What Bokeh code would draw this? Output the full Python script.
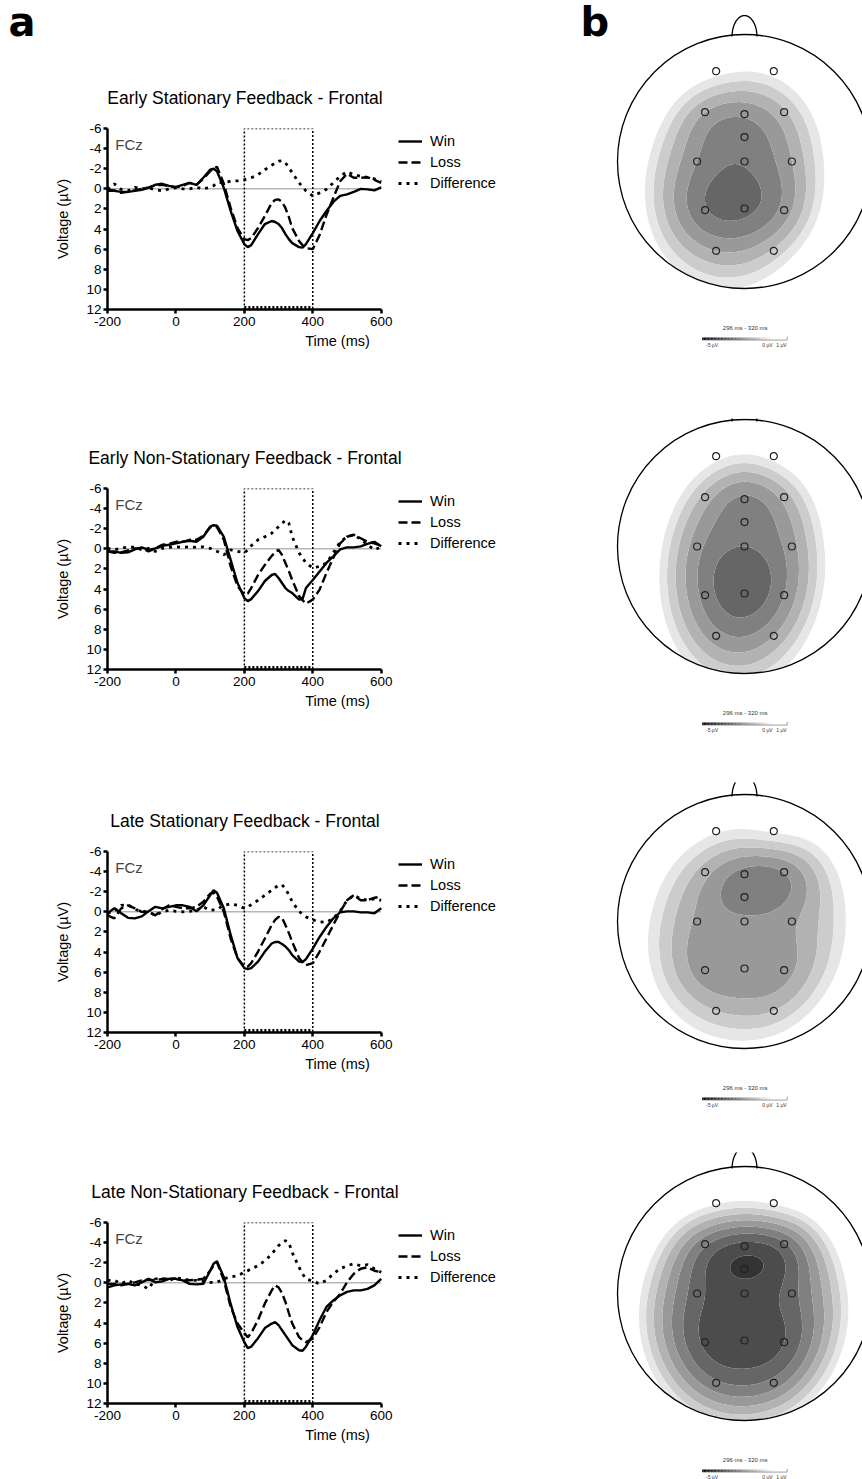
import numpy as np
from bokeh.plotting import figure
from bokeh.layouts import row, column
from bokeh.models import Range1d, FixedTicker, Legend, LegendItem, Label
from bokeh.core.properties import value
from bokeh.embed import file_html
from bokeh.resources import INLINE

# ---------------- data ----------------
TIME = [-200, -180, -160, -140, -120, -100, -80, -60, -40, -20, 0, 20, 40, 60, 80, 100,
        110, 120, 140, 160, 180, 200, 210, 220, 240, 260, 280,
        290, 300, 310, 320, 330, 340, 360, 370,
        380, 400, 420, 440, 460, 480, 500, 520, 540, 560, 580, 600]

TITLES = ["Early Stationary Feedback - Frontal",
          "Early Non-Stationary Feedback - Frontal",
          "Late Stationary Feedback - Frontal",
          "Late Non-Stationary Feedback - Frontal"]

WIN = [
    [0.2, 0.2, 0.3, 0.3, 0.2, 0.1, -0.1, -0.4, -0.5, -0.3, -0.2, -0.4, -0.6, -0.4, -1.1, -1.9,
     -2.0, -1.75, -0.1, 2.2, 4.2, 5.5, 5.8, 5.6, 4.5, 3.5, 3.2,
     3.3, 3.5, 3.9, 4.5, 5.0, 5.4, 5.8, 5.85,
     5.5, 4.4, 3.2, 2.2, 1.3, 0.7, 0.55, 0.3, 0.0, 0.05, 0.15, -0.15],
    [0.25, 0.25, 0.4, 0.35, 0.05, -0.15, 0.1, -0.05, -0.3, -0.4, -0.55, -0.7, -0.8, -0.7, -1.2, -2.2,
     -2.35, -2.3, -1.2, 1.1, 3.4, 4.9, 5.2, 5.0, 4.2, 3.2, 2.6,
     2.5, 2.9, 3.4, 3.9, 4.2, 4.4, 5.05, 5.0,
     3.9, 3.1, 2.25, 1.4, 0.75, 0.05, -0.15, -0.15, -0.25, -0.5, -0.7, -0.25],
    [0.15, -0.35, 0.15, 0.6, 0.65, 0.45, -0.05, -0.5, -0.35, -0.5, -0.65, -0.65, -0.5, -0.05, -0.65, -1.65,
     -2.15, -1.9, -0.35, 2.3, 4.6, 5.6, 5.7, 5.6, 4.95, 3.95, 3.15,
     3.0, 3.0, 3.2, 3.45, 3.8, 4.3, 4.95, 5.0,
     4.7, 3.65, 2.5, 1.5, 0.65, 0.05, -0.05, -0.05, 0.05, 0.05, 0.15, -0.35],
    [0.45, 0.25, 0.15, 0.1, 0.25, -0.05, -0.4, -0.05, -0.15, -0.4, -0.4, -0.25, 0.1, 0.15, 0.1, -1.2,
     -1.9, -2.15, -0.55, 2.1, 4.4, 5.9, 6.5, 6.35, 5.5, 4.5, 4.05,
     3.9, 4.2, 4.7, 5.2, 5.7, 6.2, 6.7, 6.75,
     6.35, 5.2, 3.7, 2.4, 1.75, 1.25, 0.9, 0.75, 0.75, 0.6, 0.25, -0.4],
]

LOSS = [
    [0.1, 0.15, 0.4, 0.3, 0.15, 0.0, -0.15, -0.35, -0.4, -0.25, -0.15, -0.3, -0.6, -0.4, -1.0, -1.75,
     -2.0, -2.2, -0.5, 1.9, 3.9, 5.0, 5.1, 4.9, 3.9, 2.7, 1.4,
     1.1, 1.05, 1.3, 1.9, 2.8, 3.9, 5.2, 5.6,
     5.9, 6.0, 4.6, 2.6, 0.9, -0.75, -1.5, -1.1, -1.1, -1.15, -0.9, -0.6],
    [0.25, 0.4, 0.35, 0.15, -0.05, -0.05, 0.25, -0.05, -0.4, -0.5, -0.7, -0.7, -0.9, -0.9, -1.3, -2.15,
     -2.2, -2.15, -0.9, 1.75, 3.7, 4.55, 4.45, 3.9, 2.6, 1.6, 0.7,
     0.35, 0.1, 0.6, 1.4, 2.2, 3.1, 4.7, 5.1,
     5.45, 5.05, 4.05, 2.4, 0.9, -0.55, -1.2, -1.4, -1.05, -0.7, -0.55, -0.3],
    [0.35, 0.65, -0.35, -0.65, -0.35, 0.0, 0.0, 0.35, -0.25, -0.65, -0.5, -0.35, -0.35, -0.5, -1.0, -1.8,
     -1.9, -1.5, 0.0, 2.65, 4.6, 5.45, 5.45, 5.1, 3.95, 2.65, 1.3,
     0.8, 0.5, 0.6, 1.3, 2.1, 3.0, 4.6, 5.0,
     5.3, 5.1, 3.95, 2.65, 1.3, 0.0, -1.15, -1.65, -1.15, -1.15, -1.4, -1.5],
    [0.1, 0.1, 0.25, 0.1, -0.05, -0.25, -0.3, -0.25, -0.4, -0.4, -0.4, -0.25, -0.25, -0.3, -0.4, -1.2,
     -1.7, -2.05, -0.25, 2.4, 4.05, 5.0, 5.4, 5.0, 3.7, 2.05, 0.75,
     0.25, 0.45, 1.0, 1.9, 3.0, 4.05, 5.4, 5.7,
     5.9, 5.55, 4.4, 2.9, 1.9, 1.1, -0.05, -0.9, -1.4, -1.55, -1.2, -1.05],
]

DIFF = [
    [0.05, -0.5, 0.05, 0.2, -0.15, 0.0, -0.1, 0.1, 0.2, 0.0, -0.1, 0.0, 0.0, -0.15, 0.0, -0.15,
     -0.3, -0.6, -0.65, -0.75, -0.8, -0.9, -1.0, -1.1, -1.4, -1.9, -2.35,
     -2.55, -2.75, -2.8, -2.6, -2.1, -1.6, -0.6, -0.2,
     0.2, 0.7, 0.4, 0.05, -0.6, -1.25, -1.7, -1.4, -1.25, -1.15, -1.0, -0.75],
    [-0.05, 0.1, -0.05, -0.2, -0.15, 0.1, -0.05, 0.25, -0.05, -0.15, -0.2, -0.15, -0.2, -0.15, -0.2, -0.05,
     0.1, 0.25, 0.6, 0.1, 0.25, 0.4, 0.1, -0.3, -0.9, -1.2, -1.55,
     -1.9, -2.2, -2.5, -2.85, -2.55, -1.2, 0.4, 0.9,
     1.4, 1.9, 1.75, 1.4, 0.4, -0.7, -1.2, -1.4, -0.95, -0.4, 0.1, -0.2],
    [0.15, -0.05, -0.65, -0.7, -0.25, -0.05, 0.0, 0.35, 0.0, -0.15, -0.05, 0.0, -0.05, -0.15, -0.5, -0.15,
     -0.2, -0.25, -0.65, -0.8, -0.65, -0.35, -0.5, -0.7, -1.15, -1.65, -2.15,
     -2.4, -2.65, -2.7, -2.3, -1.7, -1.0, -0.05, 0.25,
     0.5, 0.8, 1.0, 1.05, 0.65, -0.05, -1.15, -1.65, -1.3, -1.15, -1.3, -1.15],
    [-0.25, -0.25, 0.1, -0.25, 0.1, 0.25, 0.6, -0.4, -0.4, -0.25, -0.5, -0.4, -0.25, -0.25, -0.15, -0.05,
     -0.05, -0.05, -0.4, -0.6, -0.7, -1.05, -1.2, -1.4, -1.7, -2.2, -2.85,
     -3.3, -3.7, -4.0, -4.2, -4.0, -3.0, -1.55, -0.9,
     -0.4, -0.15, 0.1, -0.25, -0.9, -1.4, -1.7, -1.9, -1.7, -1.8, -1.4, -1.05],
]

SERIES_NAMES = ["Win", "Loss", "Difference"]
CHANNEL = "FCz"
WINDOW = [200, 400]
X_TICKS = [-200, 0, 200, 400, 600]
Y_TICKS = [-6, -4, -2, 0, 2, 4, 6, 8, 10, 12]

# electrode layout (head radius = 1, nose up)
ELEC_NAMES = ["Fp1", "Fp2", "F3", "Fz", "F4", "FCz", "C3", "Cz", "C4", "P3", "Pz", "P4", "O1", "O2"]
ELEC_X = [-0.223, 0.231, -0.310, 0.0, 0.312, 0.0, -0.373, 0.0, 0.373, -0.310, 0.0, 0.312, -0.223, 0.231]
ELEC_Y = [0.711, 0.711, 0.388, 0.373, 0.388, 0.192, 0.0, 0.0, 0.0, -0.383, -0.370, -0.383, -0.703, -0.703]

# difference voltage (µV) at each electrode, 296-320 ms
TOPO_VALUES = [
    [0.3, 0.3, -1.5, -1.9, -1.1, -2.3, -2.0, -2.45, -1.5, -2.45, -2.65, -1.8, -1.5, -0.9],
    [0.3, 0.3, -1.2, -2.1, -1.3, -2.3, -1.8, -2.5, -1.7, -2.2, -2.85, -2.0, -1.8, -1.5],
    [0.1, 0.1, -1.3, -2.2, -2.0, -2.3, -1.6, -1.9, -1.6, -1.8, -1.9, -1.7, -1.0, -1.0],
    [0.1, 0.1, -2.4, -3.2, -2.6, -3.6, -2.8, -3.3, -2.7, -3.1, -3.3, -3.0, -2.4, -2.3],
]
TOPO_WINDOW = "296 ms - 320 ms"
CBAR_MIN, CBAR_MAX = -5, 1
CBAR_LABELS = ["-5 µV", "0 µV", "1 µV"]
CONTOUR_LEVELS = [-5.0, -4.5, -4.0, -3.5, -3.0, -2.5, -2.0, -1.5, -1.0, -0.5, 0.0]

# ---------------- layout constants (page pixels) ----------------
LEFT_W, RIGHT_W = 578, 284
PANEL_H = [418, 364, 370, 327]
HEADER_H = [118, 60, 59, 60]
FRAME_TOP_PAD = 10
FRAME_H = 181
FRAME_LEFT = 107
FRAME_W = 460
PX_PER_MS = 273.7 / 800.0
X_END = X_TICKS[0] + FRAME_W / PX_PER_MS
HEAD_PX = 127.0
HEAD_CX = 166.0
HEAD_CY = [161, 128, 139, 141]
BASELINE_FIX = 16

FONT = "Liberation Sans"


def gray_hex(v):
    g = int(round(min(255, max(0, 255 + 51 * v))))
    return "#%02x%02x%02x" % (g, g, g)


BAND_COLORS = [gray_hex(a) for a in CONTOUR_LEVELS[:-1]]


def header_figure(i):
    h = HEADER_H[i]
    p = figure(width=LEFT_W, height=h, x_range=Range1d(0, LEFT_W), y_range=Range1d(h, 0),
               output_backend="svg", toolbar_location=None, min_border=0,
               x_axis_location=None, y_axis_location=None)
    p.frame_align = False
    p.outline_line_color = None
    p.grid.visible = False
    p.text(x=[244.5], y=[h + FRAME_TOP_PAD - 31], text=[TITLES[i]], text_font=value(FONT),
           text_font_size="17.5px", text_align="center", text_baseline="middle", text_color="black")
    if i == 0:
        p.text(x=[8], y=[37 - BASELINE_FIX], text=["a"], text_font=value("DejaVu Sans"),
               text_font_style="bold", text_font_size="40px", text_align="left",
               text_baseline="alphabetic", text_color="black")
    return p


def erp_figure(i):
    H = PANEL_H[i] - HEADER_H[i]
    p = figure(width=LEFT_W, height=H,
               x_range=Range1d(X_TICKS[0], X_END), y_range=Range1d(Y_TICKS[-1], Y_TICKS[0]),
               output_backend="svg", toolbar_location=None,
               min_border_left=FRAME_LEFT, min_border_right=LEFT_W - FRAME_LEFT - FRAME_W,
               min_border_top=FRAME_TOP_PAD, min_border_bottom=H - FRAME_TOP_PAD - FRAME_H)
    p.frame_align = False
    p.outline_line_color = None
    p.grid.visible = False

    for ax in (p.xaxis, p.yaxis):
        ax.axis_line_width = 2.5
        ax.axis_line_color = "black"
        ax.major_tick_line_width = 2.5
        ax.major_tick_line_color = "black"
        ax.major_tick_out = 4
        ax.major_tick_in = 0
        ax.minor_tick_line_color = None
        ax.major_label_text_font = FONT
        ax.major_label_text_font_size = "13.5px"
        ax.major_label_text_color = "black"
        ax.axis_label_text_font = FONT
        ax.axis_label_text_font_size = "14.5px"
        ax.axis_label_text_font_style = "normal"
        ax.axis_label_text_color = "black"
    p.xaxis.ticker = FixedTicker(ticks=X_TICKS)
    p.xaxis.bounds = (X_TICKS[0], X_TICKS[-1])
    p.xaxis.major_label_overrides = {t: str(t) for t in X_TICKS}
    p.yaxis.ticker = FixedTicker(ticks=Y_TICKS)
    p.yaxis.major_label_overrides = {t: str(t) for t in Y_TICKS}
    p.xaxis.axis_label = "Time (ms)"
    p.yaxis.axis_label = "Voltage (µV)"
    p.xaxis.major_label_standoff = 3
    p.yaxis.major_label_standoff = 2
    p.xaxis.axis_label_standoff = 4
    p.yaxis.axis_label_standoff = 12

    # zero line
    p.line([TIME[0], TIME[-1]], [0, 0], line_color="#222222", line_width=1, line_dash="1 1")
    # analysis window box
    p.line([WINDOW[0], WINDOW[0], WINDOW[1], WINDOW[1]],
           [Y_TICKS[-1], Y_TICKS[0], Y_TICKS[0], Y_TICKS[-1]],
           line_color="black", line_width=1.5, line_dash="2 2")
    p.line([WINDOW[0], WINDOW[1]], [Y_TICKS[-1] - 0.2, Y_TICKS[-1] - 0.2],
           line_color="black", line_width=3, line_dash="2 2")

    rw = p.line(TIME, WIN[i], line_color="black", line_width=2.4)
    rl = p.line(TIME, LOSS[i], line_color="black", line_width=2.4, line_dash="9 4")
    rd = p.line(TIME, DIFF[i], line_color="black", line_width=2.8, line_dash="3 5")

    leg = Legend(items=[LegendItem(label=SERIES_NAMES[0], renderers=[rw]),
                        LegendItem(label=SERIES_NAMES[1], renderers=[rl]),
                        LegendItem(label=SERIES_NAMES[2], renderers=[rd])],
                 location=(291, 117), orientation="vertical",
                 label_text_font=FONT, label_text_font_size="14.5px", label_text_color="black",
                 glyph_width=24, glyph_height=18, label_height=18, label_standoff=8,
                 spacing=3, padding=0, margin=0,
                 border_line_color=None, background_fill_alpha=0)
    p.add_layout(leg)

    p.add_layout(Label(x=TIME[0] + 23, y=-4.4, text=CHANNEL, text_font=FONT,
                       text_font_size="15px", text_baseline="middle", text_align="left"))
    return p


def topo_field(vals, sigma=0.22, lam=0.02):
    P = np.column_stack([ELEC_X, ELEC_Y])
    v = np.array(vals, dtype=float)

    def basis(x, y):
        return np.stack([np.ones_like(x), x, y, x * x, x * y, y * y], axis=-1)

    A = basis(P[:, 0], P[:, 1])
    coef, *_ = np.linalg.lstsq(A, v, rcond=None)
    resid = v - A @ coef
    d2 = ((P[:, None, :] - P[None, :, :]) ** 2).sum(-1)
    Phi = np.exp(-d2 / (2 * sigma ** 2))
    w = np.linalg.solve(Phi + lam * np.eye(len(P)), resid)

    g = np.linspace(-1.02, 1.02, 205)
    X, Y = np.meshgrid(g, g)
    D2 = (X[..., None] - P[:, 0]) ** 2 + (Y[..., None] - P[:, 1]) ** 2
    Z = basis(X, Y) @ coef + np.exp(-D2 / (2 * sigma ** 2)) @ w
    Z[X ** 2 + Y ** 2 > 0.995] = 1.0
    return g, g, Z


def topo_figure(i):
    H = PANEL_H[i]
    c = HEAD_CY[i]
    q = figure(width=RIGHT_W, height=H,
               x_range=Range1d(-HEAD_CX / HEAD_PX, (RIGHT_W - HEAD_CX) / HEAD_PX),
               y_range=Range1d(-(H - c) / HEAD_PX, c / HEAD_PX),
               output_backend="svg", toolbar_location=None, min_border=0,
               x_axis_location=None, y_axis_location=None)
    q.frame_align = False
    q.outline_line_color = None
    q.grid.visible = False

    gx, gy, Z = topo_field(TOPO_VALUES[i])
    q.contour(gx, gy, Z, levels=CONTOUR_LEVELS, fill_color=BAND_COLORS, line_color=None)

    q.circle(x=[0], y=[0], radius=1.0, fill_color=None, line_color="black", line_width=1.3)
    t = np.linspace(0, np.pi, 40)
    q.line(0.098 * np.cos(t), 0.984 + 0.165 * np.sin(t), line_color="black", line_width=1.3)
    q.scatter(ELEC_X, ELEC_Y, marker="circle", size=7, fill_color=None,
              line_color="#222222", line_width=1.2)

    # colour bar
    px_per_uv = 85.0 / (CBAR_MAX - CBAR_MIN)
    x0 = -42.3
    vs = np.linspace(CBAR_MIN, CBAR_MAX, 61)
    mids = (vs[:-1] + vs[1:]) / 2
    xs = (x0 + (mids - CBAR_MIN) * px_per_uv) / HEAD_PX
    wd = (vs[1] - vs[0]) * px_per_uv / HEAD_PX
    yb = -177.3 / HEAD_PX
    q.rect(x=xs, y=yb, width=wd * 1.05, height=2.6 / HEAD_PX,
           fill_color=[gray_hex(v) for v in mids], line_color=None)
    xe = (x0 + (CBAR_MAX - CBAR_MIN) * px_per_uv) / HEAD_PX
    q.line([x0 / HEAD_PX, xe], [yb - 1.3 / HEAD_PX] * 2, line_color="#777777", line_width=0.7)
    q.line([xe, xe], [yb - 1.3 / HEAD_PX, yb + 2 / HEAD_PX], line_color="#777777", line_width=0.7)

    q.text(x=[0.005], y=[-166.0 / HEAD_PX], text=[TOPO_WINDOW], text_font=value(FONT),
           text_font_size="6px", text_align="center", text_baseline="middle", text_color="#333333")
    q.text(x=[-0.256, 0.181, 0.291], y=[-183.3 / HEAD_PX] * 3, text=CBAR_LABELS,
           text_font=value(FONT), text_font_size="5px", text_align="center",
           text_baseline="middle", text_color="#333333")
    if i == 0:
        q.text(x=[(580 - 744) / HEAD_PX], y=[(124 + BASELINE_FIX) / HEAD_PX], text=["b"],
               text_font=value("DejaVu Sans"), text_font_style="bold", text_font_size="40px",
               text_align="left", text_baseline="alphabetic", text_color="black")
    return q


left_items = []
for i in range(4):
    left_items.append(header_figure(i))
    left_items.append(erp_figure(i))
left = column(*left_items, spacing=0)
right = column(*[topo_figure(i) for i in range(4)], spacing=0)
layout = row(left, right, spacing=0)

open("out.html", "w").write(file_html(layout, INLINE))
